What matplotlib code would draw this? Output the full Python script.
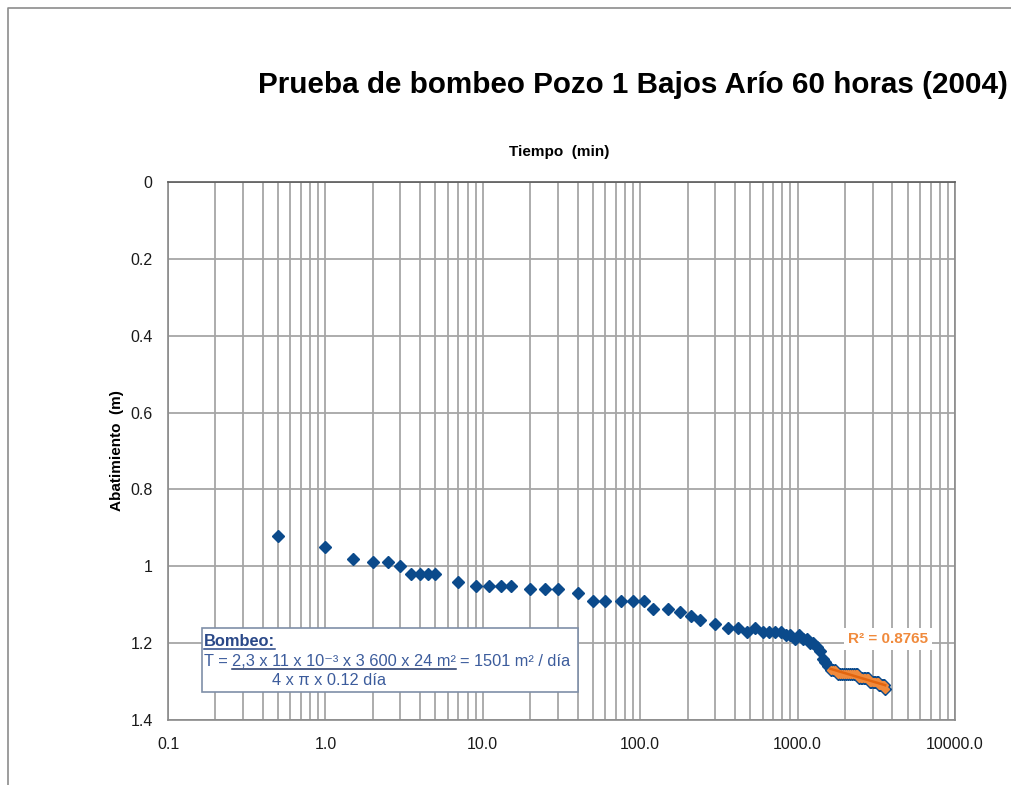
import numpy as np
import matplotlib
matplotlib.use('Agg')
import matplotlib.pyplot as plt
from matplotlib.lines import Line2D
from matplotlib.patches import Rectangle
from matplotlib.ticker import LogLocator, FixedLocator, NullFormatter

# ---------------- data ----------------
tiempo_min = [0.5, 1, 1.5, 2, 2.5, 3, 3.5, 4, 4.5, 5, 7, 9, 11, 13, 15, 20, 25, 30, 40,
              50, 60, 75, 90, 105, 120, 150, 180, 210, 240,
              300, 360, 420, 480, 540, 600, 660, 720, 780, 840, 900, 960, 1020, 1080,
              1140, 1200, 1260, 1320, 1380, 1440, 1500, 1560,
              1620, 1680, 1740, 1800, 1860, 1920, 1980, 2040, 2100, 2160, 2220, 2280,
              2340, 2400, 2460, 2520, 2580, 2640, 2700, 2760, 2820, 2880, 2940, 3000,
              3060, 3120, 3180, 3240, 3300, 3360, 3420, 3480, 3540, 3600]
abatimiento_m = [0.92, 0.95, 0.98, 0.99, 0.99, 1.00, 1.02, 1.02, 1.02, 1.02, 1.04, 1.05, 1.05, 1.05, 1.05,
                 1.06, 1.06, 1.06, 1.07,
                 1.09, 1.09, 1.09, 1.09, 1.09, 1.11, 1.11, 1.12, 1.13, 1.14,
                 1.15, 1.16, 1.16, 1.17, 1.16, 1.17, 1.17, 1.17, 1.17, 1.18, 1.18, 1.19, 1.18, 1.19,
                 1.19, 1.20, 1.20, 1.21, 1.22, 1.24, 1.25, 1.26,
                 1.27, 1.27, 1.27, 1.28, 1.28, 1.28, 1.28, 1.28, 1.28, 1.28, 1.28, 1.28,
                 1.28, 1.28, 1.29, 1.29, 1.29, 1.29, 1.29, 1.29, 1.29, 1.30, 1.30, 1.30,
                 1.30, 1.30, 1.30, 1.30, 1.31, 1.31, 1.31, 1.31, 1.31, 1.32]
inicio_tendencia = 1620  # first time (min) of the fitted (orange) segment
r2_texto = "R² = 0.8765"

x_ticks = [0.1, 1, 10, 100, 1000, 10000]
x_ticklabels = ["0.1", "1.0", "10.0", "100.0", "1000.0", "10000.0"]
y_ticks = [0, 0.2, 0.4, 0.6, 0.8, 1.0, 1.2, 1.4]
y_ticklabels = ["0", "0.2", "0.4", "0.6", "0.8", "1", "1.2", "1.4"]

titulo = "Prueba de bombeo Pozo 1 Bajos Arío 60 horas (2004)"
xlabel = "Tiempo  (min)"
ylabel = "Abatimiento  (m)"

# ---------------- style ----------------
plt.rcParams['font.family'] = ['Liberation Sans', 'DejaVu Sans']
BLUE = '#0B4A8B'
ORANGE = '#F08A3C'
ORANGE_LINE = '#E2650F'
GRID = '#A6A6A6'
TXT = '#3C5C9C'

W, H = 1011, 785
fig = plt.figure(figsize=(W / 100, H / 100), dpi=100)
fig.patch.set_facecolor('white')

L, R, B, T = 168, 955, 720, 182
ax = fig.add_axes([L / W, 1 - B / H, (R - L) / W, (B - T) / H])

t = np.array(tiempo_min, dtype=float)
s = np.array(abatimiento_m, dtype=float)
mask = t >= inicio_tendencia

ax.plot(t, s, linestyle='none', marker='D', markersize=6.3, color=BLUE,
        markeredgecolor=BLUE, zorder=3)
ax.plot(t[mask], s[mask], linestyle='none', marker='D', markersize=4.4, color=ORANGE,
        markeredgecolor=ORANGE, zorder=4)
coef = np.polyfit(np.log(t[mask]), s[mask], 1)
tt = np.array([t[mask].min(), t[mask].max()])
ax.plot(tt, coef[0] * np.log(tt) + coef[1], color=ORANGE_LINE, lw=1.8, zorder=5)

ax.set_xscale('log')
ax.set_xlim(0.1, 10000)
ax.set_ylim(1.4, 0)
ax.xaxis.set_major_locator(FixedLocator(x_ticks))
ax.set_xticklabels(x_ticklabels)
ax.xaxis.set_minor_locator(LogLocator(base=10, subs=np.arange(2, 10)))
ax.xaxis.set_minor_formatter(NullFormatter())
ax.yaxis.set_major_locator(FixedLocator(y_ticks))
ax.set_yticklabels(y_ticklabels)

ax.grid(True, which='major', axis='both', color=GRID, lw=1.3)
ax.grid(True, which='minor', axis='x', color=GRID, lw=1.3)
ax.set_axisbelow(True)
for sp in ax.spines.values():
    sp.set_color('#8A8A8A')
    sp.set_linewidth(1.2)
ax.spines['top'].set_color('#5A5A5A')

ax.tick_params(axis='both', which='both', length=0, labelsize=11.5, colors='#1A1A1A')
ax.tick_params(axis='y', pad=11)
ax.tick_params(axis='x', pad=12)

ax.xaxis.set_label_position('top')
ax.set_xlabel(xlabel, fontsize=11, fontweight='bold', color='black')
ax.xaxis.set_label_coords(0.497, (B - 152) / (B - T), transform=ax.transAxes)
ax.xaxis.label.set_va('center')
ax.set_ylabel(ylabel, fontsize=11, fontweight='bold', color='black')
ax.yaxis.set_label_coords((117 - L) / (R - L), 0.5)
ax.yaxis.label.set_va('center')

# title
fig.text(258 / W, 1 - 85 / H, titulo, fontsize=21.3, fontweight='bold',
         ha='left', va='center', color='black')

# outer chart border
fig.add_artist(Line2D([8 / W, 8 / W, 1.0], [0.0, 1 - 8 / H, 1 - 8 / H],
                      transform=fig.transFigure, color='#8C8C8C', lw=1.2))

# R² label
fig.text(888 / W, 1 - 639 / H, r2_texto, fontsize=11, fontweight='bold', color=ORANGE,
         ha='center', va='center', zorder=10,
         bbox=dict(facecolor='white', edgecolor='none', pad=3))

# annotation box
fig.add_artist(Rectangle((202 / W, 1 - 692 / H), (578 - 202) / W, (692 - 628) / H,
                         transform=fig.transFigure, facecolor='white',
                         edgecolor='#7F8FA8', lw=1.2, zorder=8))
fig.canvas.draw()
rend = fig.canvas.get_renderer()


def put(xpx, ybase, txt, **kw):
    tx = fig.text(xpx / W, 1 - ybase / H, txt, ha='left', va='baseline', zorder=9, **kw)
    bb = tx.get_window_extent(renderer=rend)
    return bb.x1


def underline(x0, x1, ypx, color):
    fig.add_artist(Line2D([x0 / W, x1 / W], [1 - ypx / H, 1 - ypx / H],
                          transform=fig.transFigure, color=color, lw=1.1, zorder=9))


FS = 11.8
x_end = put(204, 646, "Bombeo:", fontsize=FS, fontweight='bold', color='#2A4888')
underline(204, x_end, 648.5, '#2A4888')

x1 = put(204, 666, "T =", fontsize=FS, color=TXT)
xs = x1 + 4
x2 = put(xs, 666, "2,3 x 11 x 10⁻³ x 3 600 x 24 m²", fontsize=FS, color=TXT)
underline(xs, x2, 668.5, '#1F3466')
put(x2 + 4, 666, "= 1501 m² / día", fontsize=FS, color=TXT)
put(272, 685, "4 x π x 0.12 día", fontsize=FS, color=TXT)

fig.savefig('out.png', dpi=100)
